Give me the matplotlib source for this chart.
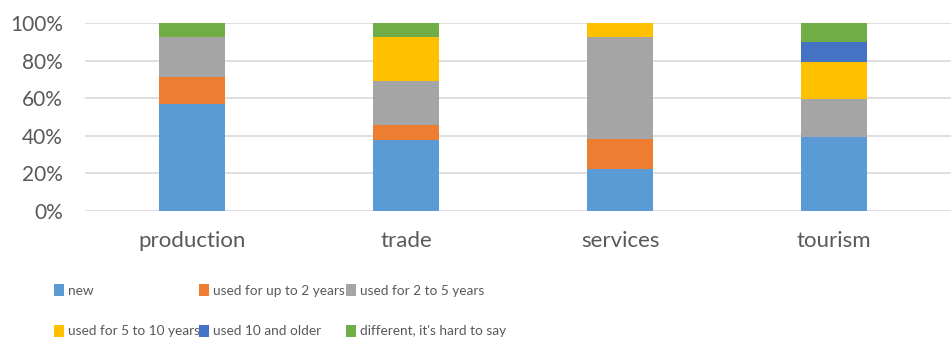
import numpy as np
import matplotlib.pyplot as plt

sectors = ["production", "trade", "services", "tourism"]
series = ["new", "used for up to 2 years", "used for 2 to 5 years",
          "used for 5 to 10 years", "used 10 and older", "different, it's hard to say"]
new = [57, 38, 22.5, 39.5]
up_to_2 = [14.5, 8, 16, 0]
y2_to_5 = [21, 23, 54, 20]
y5_to_10 = [0, 23.5, 7.5, 20]
older_10 = [0, 0, 0, 10.5]
different = [7.5, 7.5, 0, 10]
colors = ["#5B9BD5", "#ED7D31", "#A5A5A5", "#FFC000", "#4472C4", "#70AD47"]

plt.rcParams['font.family'] = ['Lato', 'DejaVu Sans']
grey = "#595959"

fig = plt.figure(figsize=(9.51, 3.46), dpi=100)
ax = fig.add_axes([85/951, 0.390, 1 - 85/951, 0.5434])

values = [new, up_to_2, y2_to_5, y5_to_10, older_10, different]
x = np.arange(len(sectors))
bottom = np.zeros(len(sectors))
handles = []
for vals, lab, c in zip(values, series, colors):
    b = ax.bar(x, vals, 0.31, bottom=bottom, color=c, label=lab, zorder=3)
    handles.append(b)
    bottom += np.array(vals)

ax.set_ylim(0, 100)
ax.set_xlim(-0.5, 3.5 + 10/219)
ax.set_yticks(np.arange(0, 101, 20))
ax.set_yticklabels([f"{v}%" for v in range(0, 101, 20)])
ax.set_xticks(x)
ax.set_xticklabels(sectors)
ax.tick_params(length=0, labelsize=16, colors=grey)
ax.tick_params(axis='x', pad=14)
ax.tick_params(axis='y', labelsize=15, pad=16)
ax.grid(axis='y', color="#D9D9D9", linewidth=1.2, zorder=0)
for s in ax.spines.values():
    s.set_visible(False)

# legend in three columns, placed separately to keep Excel-like spacing
col_x = [54, 199, 346]
for j in range(3):
    fig.legend([handles[j], handles[j + 3]], [series[j], series[j + 3]],
               loc="upper left", bbox_to_anchor=(col_x[j]/951, 1 - 284/346),
               frameon=False, ncol=1, handlelength=0.7, handleheight=1.0,
               handletextpad=0.3, labelspacing=2.05, borderaxespad=0, borderpad=0,
               prop={'size': 9.8}, labelcolor=grey)

fig.savefig("out.png", dpi=100)
